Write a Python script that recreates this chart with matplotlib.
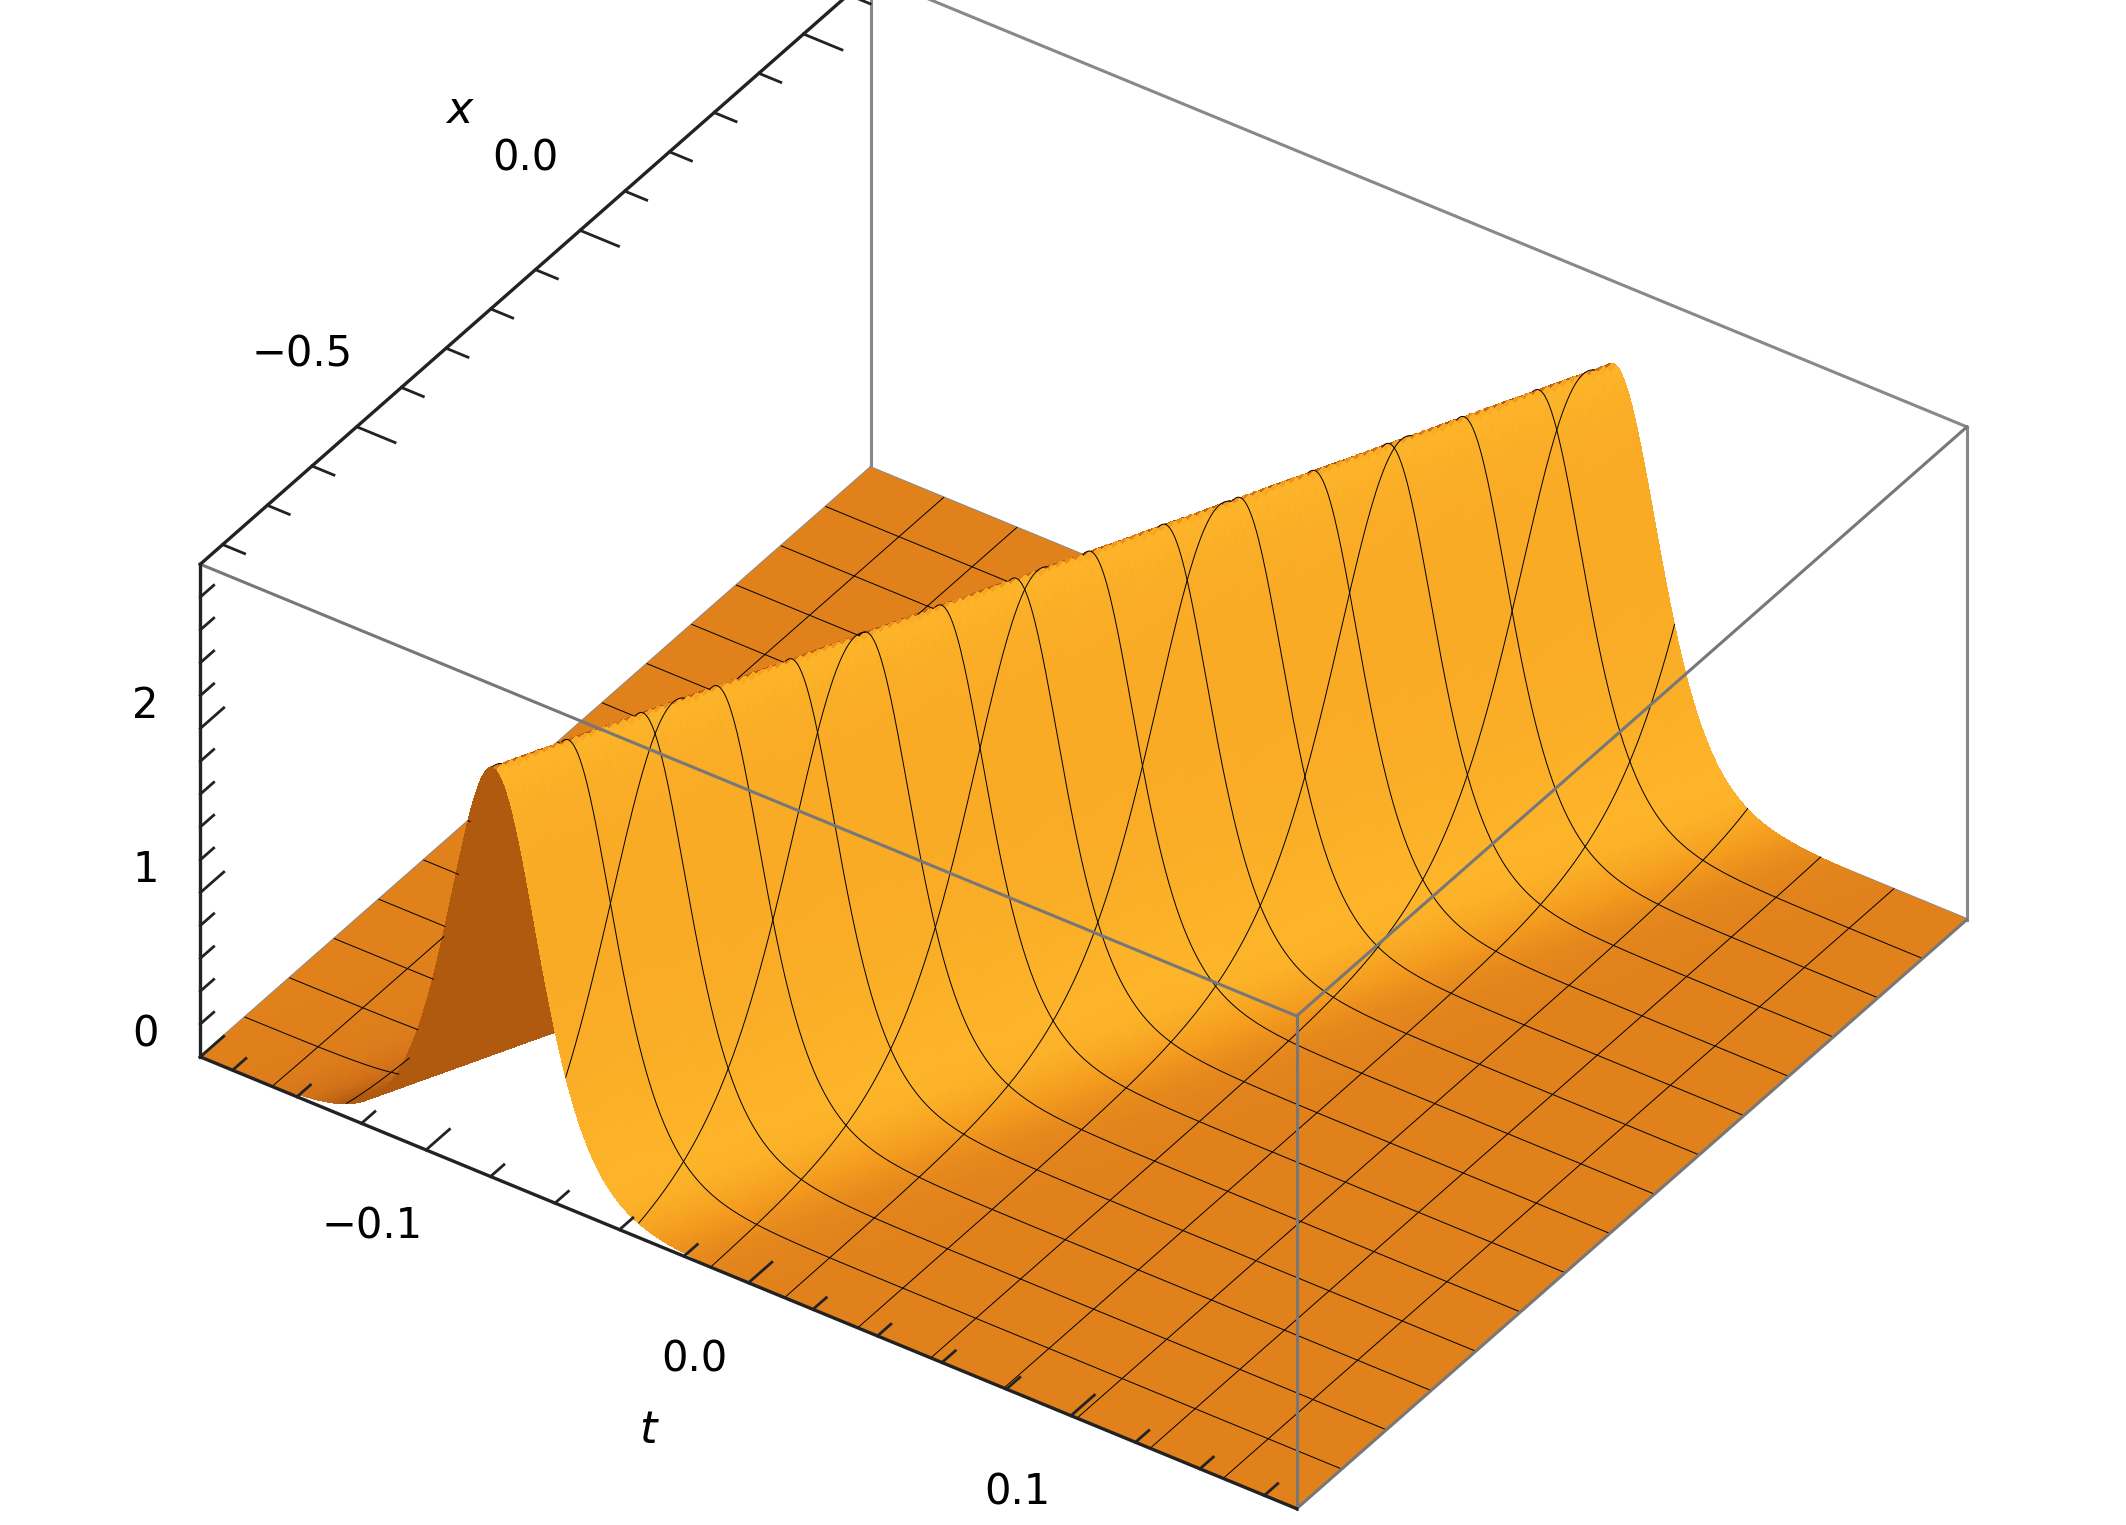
import numpy as np
import matplotlib
matplotlib.use("Agg")
import matplotlib.pyplot as plt
from matplotlib.colors import LinearSegmentedColormap

# soliton parameters
amplitude = 2.5
velocity = 0.093     # ridge position t = velocity * x + t_shift
t_shift = 0.0
width = 0.019
t_range = [-0.17, 0.17]
x_range = [-0.85, 0.65]
z_range = [0.0, 3.0]
t_ticks = [-0.1, 0.0, 0.1]
t_ticklabels = ["−0.1", "0.0", "0.1"]
x_ticks = [-0.5, 0.0, 0.5]
x_ticklabels = ["−0.5", "0.0", "0.5"]
z_ticks = [0, 1, 2]
z_ticklabels = ["0", "1", "2"]
t_minor = [-0.16, -0.14, -0.12, -0.08, -0.06, -0.04, -0.02, 0.02, 0.04, 0.06, 0.08, 0.12, 0.14, 0.16]
x_minor = [-0.8, -0.7, -0.6, -0.4, -0.3, -0.2, -0.1, 0.1, 0.2, 0.3, 0.4, 0.6]
z_minor = [0.2, 0.4, 0.6, 0.8, 1.2, 1.4, 1.6, 1.8, 2.2, 2.4, 2.6, 2.8]

ELEV, AZIM = 37, -55.6
ASPECT = (1.12, 1.0, 0.52)

def u(tt, xx):
    return amplitude / np.cosh((tt - velocity * xx - t_shift) / width) ** 2

t = np.linspace(*t_range, 341)
x = np.linspace(*x_range, 121)
T, X = np.meshgrid(t, x)
Z = u(T, X)

st = ASPECT[0] / (t_range[1] - t_range[0])
sx = ASPECT[1] / (x_range[1] - x_range[0])
sz = ASPECT[2] / (z_range[1] - z_range[0])

dzdt = np.gradient(Z, t, axis=1) * sz / st
dzdx = np.gradient(Z, x, axis=0) * sz / sx
n = np.stack([-dzdt, -dzdx, np.ones_like(dzdt)], -1)
n /= np.linalg.norm(n, axis=-1, keepdims=True)
L = np.array([0.8, -0.2, 0.55]); L /= np.linalg.norm(L)
inten = np.clip((n @ L - 0.2) / 0.8, 0, 1)
cmap = LinearSegmentedColormap.from_list("o", ["#B05A10", "#D6741A", "#F39A1E", "#FDB52A"])
rgb = cmap(inten)

e, a = np.radians(ELEV), np.radians(AZIM)
d = np.array([np.cos(e) * np.cos(a) / st, np.cos(e) * np.sin(a) / sx, np.sin(e) / sz])
svals = np.linspace(0.002, 3.0, 600)

def visible(tt, xx, zz):
    ts = tt + svals * d[0]
    xs = xx + svals * d[1]
    zs = zz + svals * d[2]
    inside = (ts <= t_range[1]) & (xs >= x_range[0])
    return not np.any(inside & (u(ts, xs) > zs + 0.01))

def masked_line(tt, xx):
    zz = u(tt, xx) + 0.003
    vis = np.array([visible(a1, b1, c1) for a1, b1, c1 in zip(tt, xx, zz)])
    return np.where(vis, zz, np.nan)

fig = plt.figure(figsize=(21.26, 15.25), dpi=100)
ax = fig.add_axes([0.0, 0.0, 1, 1.0], projection="3d", computed_zorder=False)
ax.set_proj_type("ortho")
ax.set_axis_off()

t0, t1 = t_range; x0, x1 = x_range; z0, z1 = z_range
back_kw = dict(color="#888888", lw=2.2, zorder=0)
front_kw = dict(color="#777777", lw=2.2, zorder=3)
axis_kw = dict(color="#222222", lw=2.4, zorder=3)
ax.plot([t0, t1], [x1, x1], [z0, z0], **back_kw)
ax.plot([t0, t0], [x0, x1], [z0, z0], **back_kw)
ax.plot([t0, t0], [x1, x1], [z0, z1], **back_kw)
ax.plot([t1, t1], [x1, x1], [z0, z1], **back_kw)
ax.plot([t0, t1], [x1, x1], [z1, z1], **back_kw)

ax.plot_surface(T, X, Z, facecolors=rgb, rstride=1, cstride=1,
                linewidth=0, antialiased=False, shade=False, zorder=1)
xl = np.linspace(*x_range, 300)
tl = np.linspace(*t_range, 600)
for tv in np.linspace(*t_range, 16)[1:-1]:
    tt = np.full_like(xl, tv)
    ax.plot(tt, xl, masked_line(tt, xl), color="k", lw=0.7, zorder=2)
for xv in np.linspace(*x_range, 16)[1:-1]:
    xx = np.full_like(tl, xv)
    ax.plot(tl, xx, masked_line(tl, xx), color="k", lw=0.7, zorder=2)

ax.plot([t1, t1], [x0, x0], [z0, z1], **front_kw)
ax.plot([t0, t1], [x0, x0], [z1, z1], **front_kw)
ax.plot([t1, t1], [x0, x1], [z1, z1], **front_kw)
ax.plot([t1, t1], [x0, x1], [z0, z0], **front_kw)
ax.plot([t0, t1], [x0, x0], [z0, z0], **axis_kw)
ax.plot([t0, t0], [x0, x1], [z1, z1], **axis_kw)
ax.plot([t0, t0], [x0, x0], [z0, z1], **axis_kw)

dt, dx, dz = t1 - t0, x1 - x0, z1 - z0
fs = 30
tick_kw = dict(color="#222222", lw=2.0, zorder=3)
for v in t_ticks + t_minor:
    ln = 0.035 if v in t_ticks else 0.02
    ax.plot([v, v], [x0, x0 + ln * dx], [z0, z0], **tick_kw)
for v, s in zip(t_ticks, t_ticklabels):
    ax.text(v, x0 - 0.08 * dx, z0 - 0.06 * dz, s, fontsize=fs, ha="center", va="center", zorder=4)
ax.text(0.0, x0 - 0.15 * dx, z0 - 0.12 * dz, "t", fontsize=fs + 2, style="italic",
        ha="center", va="center", zorder=4)
for v in x_ticks + x_minor:
    ln = 0.035 if v in x_ticks else 0.02
    ax.plot([t0, t0 + ln * dt], [v, v], [z1, z1], **tick_kw)
for v, s in zip(x_ticks, x_ticklabels):
    ax.text(t0 - 0.05 * dt, v, z1 + 0.10 * dz, s, fontsize=fs, ha="center", va="center", zorder=4)
ax.text(t0 - 0.09 * dt, -0.05, z1 + 0.2 * dz, "x", fontsize=fs + 2, style="italic",
        ha="center", va="center", zorder=4)
for v in z_ticks + z_minor:
    ln = 0.035 if v in z_ticks else 0.02
    ax.plot([t0, t0], [x0, x0 + ln * dx], [v, v], **tick_kw)
for v, s in zip(z_ticks, z_ticklabels):
    ax.text(t0 - 0.05 * dt, x0, v, s, fontsize=fs, ha="center", va="center", zorder=4)

for art in list(ax.lines) + list(ax.texts) + list(ax.collections):
    art.set_clip_on(False)

ax.set_xlim(*t_range)
ax.set_ylim(*x_range)
ax.set_zlim(*z_range)
ax.set_box_aspect(ASPECT, zoom=1.2)
ax.view_init(elev=ELEV, azim=AZIM)
fig.savefig("out.png", dpi=100)
